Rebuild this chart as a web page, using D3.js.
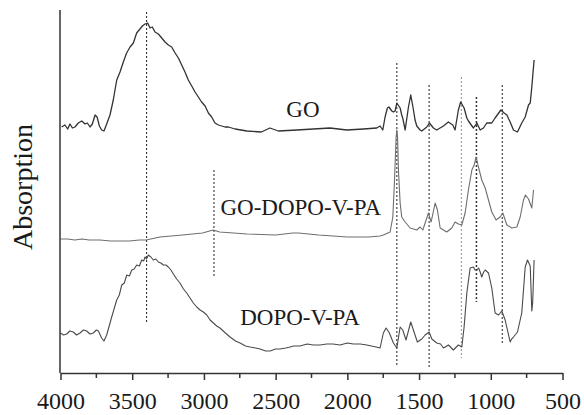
<!DOCTYPE html>
<html>
<head>
<meta charset="utf-8">
<script src="https://cdn.jsdelivr.net/npm/d3@7"></script>
<style>
  body { margin: 0; background: #fff; }
  text { font-family: "Liberation Serif", "Times New Roman", serif; fill: #1a1a1a; }
</style>
</head>
<body>
<svg width="584" height="415"></svg>
<script>
// spectra, [wavenumber (cm-1), absorption (a.u., already stacked)]
var goData = [
  [3992,246],[3969,248],[3950,244],[3934,249],[3917,245],[3899,246],[3876,250],[3852,252],
  [3829,249],[3813,250],[3794,246],[3778,249],[3759,258],[3745,256],[3729,247],[3713,243],
  [3697,242],[3678,249],[3655,258],[3632,273],[3608,293],[3585,301],[3562,311],[3539,320],
  [3515,326],[3492,330],[3469,340],[3446,344],[3429,347],[3411,349],[3392,350],[3376,345],
  [3360,346],[3341,341],[3318,339],[3294,335],[3271,331],[3248,328],[3225,326],[3201,320],
  [3178,315],[3155,308],[3132,301],[3109,293],[3085,287],[3062,281],[3039,276],[3016,271],
  [2992,267],[2969,260],[2946,256],[2923,250],[2899,248],[2876,247],[2853,246],[2830,246],
  [2806,245],[2783,244],[2700,242],[2600,241],[2540,245],[2480,242],[2353,243],[2237,244],
  [2121,245],[2004,243],[1888,244],[1795,245],[1772,247],[1753,243],[1737,256],[1721,265],
  [1710,266],[1690,262],[1679,261],[1667,262],[1655,270],[1632,265],[1621,258],[1614,255],
  [1597,243],[1574,266],[1558,278],[1539,263],[1528,253],[1516,247],[1493,243],[1481,242],
  [1446,246],[1428,250],[1400,245],[1377,243],[1330,247],[1296,251],[1265,248],[1249,243],
  [1226,263],[1210,271],[1186,265],[1167,255],[1156,252],[1121,245],[1097,250],[1074,243],
  [1051,245],[1028,250],[993,250],[970,255],[930,263],[907,260],[888,258],[865,251],
  [842,243],[814,241],[784,250],[760,256],[737,268],[725,270],[714,286],[698,313]
];

var goDopoData = [
  [4000,134],[3950,134],[3900,133],[3850,134],[3800,133],[3725,133],[3650,132],[3600,132],
  [3520,132],[3450,133],[3404,133],[3306,136],[3150,138],[3010,140],[2936,143],[2890,141],
  [2700,139],[2500,138],[2380,140],[2340,140],[2200,138],[2000,136],[1850,136],[1772,137],
  [1749,138],[1702,141],[1683,156],[1672,190],[1660,236],[1655,243],[1650,236],[1644,203],
  [1632,170],[1621,156],[1597,151],[1562,145],[1516,143],[1493,146],[1474,143],[1446,155],
  [1435,160],[1416,151],[1388,170],[1372,163],[1353,145],[1307,141],[1272,145],[1249,151],
  [1226,149],[1202,148],[1179,160],[1156,183],[1132,203],[1116,208],[1102,216],[1086,206],
  [1063,193],[1039,185],[1016,173],[993,161],[963,153],[935,156],[916,160],[888,148],
  [853,145],[818,146],[795,156],[772,173],[758,178],[737,174],[714,165],[702,183]
];

var dopoData = [
  [4000,40],[3978,38],[3957,39],[3935,42],[3911,41],[3888,38],[3864,40],[3840,43],
  [3817,42],[3795,39],[3771,40],[3750,43],[3736,42],[3713,35],[3697,32],[3678,38],
  [3643,56],[3608,73],[3590,78],[3573,88],[3555,90],[3538,98],[3520,97],[3503,103],
  [3486,104],[3469,108],[3450,107],[3434,113],[3420,112],[3411,116],[3400,114],[3388,118],
  [3370,116],[3353,113],[3335,114],[3318,111],[3300,110],[3283,108],[3265,108],[3248,106],
  [3230,103],[3213,99],[3190,94],[3167,90],[3143,84],[3120,80],[3097,75],[3074,70],
  [3050,66],[3027,63],[3004,61],[2980,58],[2957,53],[2934,50],[2911,47],[2888,45],
  [2850,40],[2818,36],[2780,32],[2748,30],[2710,27],[2678,26],[2640,25],[2608,24],
  [2570,22],[2539,22],[2500,24],[2469,24],[2430,25],[2399,26],[2376,27],[2330,27],
  [2280,29],[2237,28],[2190,28],[2144,29],[2100,29],[2051,28],[2000,30],[1958,29],
  [1910,29],[1865,28],[1800,26],[1772,25],[1749,40],[1730,45],[1707,40],[1679,30],
  [1655,25],[1632,46],[1614,43],[1591,33],[1558,51],[1535,41],[1512,31],[1481,34],
  [1458,38],[1430,41],[1411,34],[1377,30],[1350,29],[1330,25],[1295,28],[1261,23],
  [1226,28],[1202,26],[1186,46],[1167,80],[1144,105],[1121,106],[1110,103],[1097,103],
  [1085,105],[1074,101],[1063,96],[1050,101],[1039,103],[1016,100],[993,85],[970,60],
  [946,58],[923,62],[900,53],[865,31],[855,34],[842,36],[814,41],[784,60],
  [760,106],[744,113],[725,107],[714,62],[708,70],[698,113]
];

var series = [
  { name: "GO", values: goData, color: "#333", width: 1.3 },
  { name: "GO-DOPO-V-PA", values: goDopoData, color: "#6e6e6e", width: 1.1 },
  { name: "DOPO-V-PA", values: dopoData, color: "#4a4a4a", width: 1.1 }
];

// marked bands (cm-1) and the span of each guide line
var bands = [3400, 2930, 1655, 1430, 1205, 1100, 920];
var bandTop = [361, 203, 310, 288, 296, 276, 288];
var bandBottom = [51, 95, 6, 6, 15, 71, 30];

var majorTicks = [4000, 3500, 3000, 2500, 2000, 1500, 1000, 500];
var minorTicks = [3750, 3250, 2750, 2250, 1750, 1250, 750];

var svg = d3.select("svg");

var x = d3.scaleLinear().domain([4000, 500]).range([60.5, 562.5]);
var y = d3.scaleLinear().domain([0, 363]).range([373, 10]);

var line = d3.line()
    .x(function(d) { return x(d[0]); })
    .y(function(d) { return y(d[1]); });

// guide lines
svg.append("g")
    .attr("class", "bands")
  .selectAll("line")
  .data(bands)
  .enter().append("line")
    .attr("x1", function(d) { return x(d); })
    .attr("x2", function(d) { return x(d); })
    .attr("y1", function(d, i) { return y(bandTop[i]); })
    .attr("y2", function(d, i) { return y(bandBottom[i]); })
    .style("stroke", function(d) { return d == 1205 ? "#999" : "#333"; })
    .style("stroke-width", function(d) { return d == 1100 ? 1.5 : 1.1; })
    .style("stroke-dasharray", "2,2");

// spectra
svg.append("g")
    .attr("class", "spectra")
  .selectAll("path")
  .data(series)
  .enter().append("path")
    .attr("d", function(d) { return line(d.values); })
    .style("fill", "none")
    .style("stroke", function(d) { return d.color; })
    .style("stroke-width", function(d) { return d.width; })
    .style("stroke-linejoin", "round");

// curve labels
var labelPos = [[2310, 256], [2325, 158], [2330, 48]];
svg.append("g")
  .selectAll("text")
  .data(series)
  .enter().append("text")
    .attr("x", function(d, i) { return x(labelPos[i][0]); })
    .attr("y", function(d, i) { return y(labelPos[i][1]); })
    .attr("text-anchor", "middle")
    .style("font-size", "23px")
    .text(function(d) { return d.name; });

// x axis
var xAxis = svg.append("g")
    .attr("transform", "translate(0," + y(0) + ")")
    .call(d3.axisBottom(x).tickValues(majorTicks).tickSize(7).tickSizeOuter(0)
      .tickPadding(12).tickFormat(d3.format("d")));
xAxis.selectAll("text").style("font-size", "24px").attr("fill", "#1a1a1a")
    .style("font-family", "'Liberation Serif', 'Times New Roman', serif");
xAxis.selectAll("line, path").attr("stroke", "#333").style("stroke-width", 1.5);

svg.append("g")
    .attr("transform", "translate(0," + y(0) + ")")
  .selectAll("line")
  .data(minorTicks)
  .enter().append("line")
    .attr("x1", function(d) { return x(d); })
    .attr("x2", function(d) { return x(d); })
    .attr("y1", 0)
    .attr("y2", 5)
    .style("stroke", "#333")
    .style("stroke-width", 1.5);

// y axis (no ticks)
svg.append("line")
    .attr("x1", x(4000) - 0.5).attr("x2", x(4000) - 0.5)
    .attr("y1", y(363)).attr("y2", y(0))
    .style("stroke", "#333")
    .style("stroke-width", 1.5);

svg.append("text")
    .attr("transform", "translate(32,187) rotate(-90)")
    .attr("text-anchor", "middle")
    .style("font-size", "28px")
    .text("Absorption");
</script>
</body>
</html>
